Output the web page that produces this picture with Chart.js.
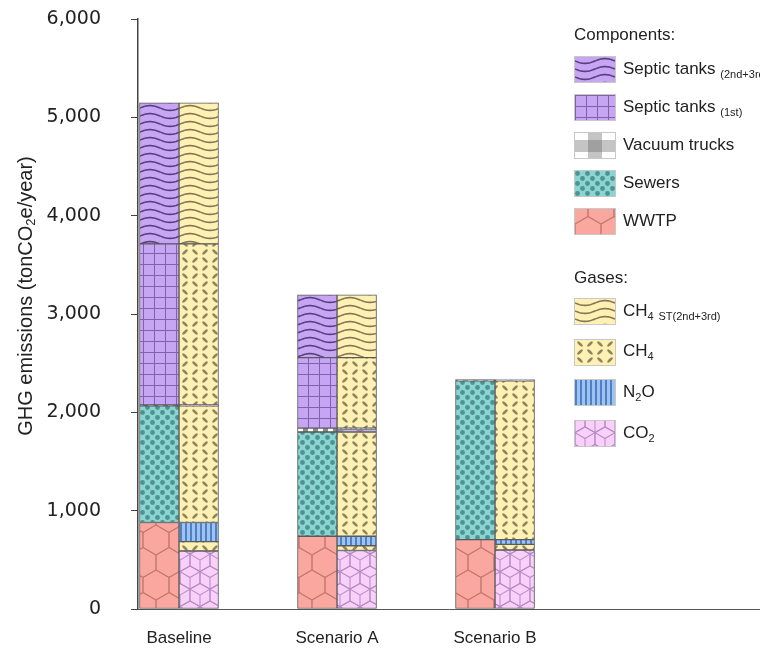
<!DOCTYPE html>
<html>
<head>
<meta charset="utf-8">
<script src="https://cdn.jsdelivr.net/npm/chart.js@4.4.1/dist/chart.umd.min.js"></script>
<style>
  html, body { margin: 0; padding: 0; background: #fff; overflow: hidden; }
  #wrap { position: relative; width: 760px; height: 652px; }
  #myChart { display: block; }
  #legend { position: absolute; left: 574px; top: 0; font-family: "Liberation Sans", Arial, sans-serif; font-size: 17px; color: #222; white-space: nowrap; }
  .group { position: absolute; left: 0; }
  .head { height: 26px; line-height: 26px; }
  .item { display: flex; align-items: center; }
  #comp .item { height: 37.8px; }
  #comp .head { margin-bottom: 3px; }
  #gas .item { height: 40.7px; }
  .item canvas { border: 1px solid #c8c8c8; margin-right: 7px; }
  .item sub { font-size: 11px; }
</style>
</head>
<body>
<div id="wrap">
  <canvas id="myChart" width="760" height="652"></canvas>
  <div id="legend">
    <div class="group" id="comp" style="top:22px">
      <div class="head">Components:</div>
      <div class="item"><canvas width="40" height="25" data-p="septicLater"></canvas><span>Septic tanks <sub>(2nd+3rd)</sub></span></div>
      <div class="item"><canvas width="40" height="25" data-p="septicFirst"></canvas><span>Septic tanks <sub>(1st)</sub></span></div>
      <div class="item"><canvas width="40" height="25" data-p="vacuumBig"></canvas><span>Vacuum trucks</span></div>
      <div class="item"><canvas width="40" height="25" data-p="sewers"></canvas><span>Sewers</span></div>
      <div class="item"><canvas width="40" height="25" data-p="wwtp"></canvas><span>WWTP</span></div>
    </div>
    <div class="group" id="gas" style="top:265px">
      <div class="head">Gases:</div>
      <div class="item"><canvas width="40" height="25" data-p="ch4St"></canvas><span>CH<sub>4</sub> <sub>ST(2nd+3rd)</sub></span></div>
      <div class="item"><canvas width="40" height="25" data-p="ch4"></canvas><span>CH<sub>4</sub></span></div>
      <div class="item"><canvas width="40" height="25" data-p="n2o"></canvas><span>N<sub>2</sub>O</span></div>
      <div class="item"><canvas width="40" height="25" data-p="co2"></canvas><span>CO<sub>2</sub></span></div>
    </div>
  </div>
</div>
<script>
// --- Data (tonCO2e/year) ---
const categories = ['Baseline', 'Scenario A', 'Scenario B'];
const yTicks = [0, 1000, 2000, 3000, 4000, 5000, 6000];

// components stack
const wwtp = [880, 740, 705];
const sewers = [1185, 1060, 1615];
const vacuumTrucks = [10, 40, 12];
const septicFirst = [1638, 716, 0];
const septicLater = [1434, 638, 0];

// gases stack
const co2Wwtp = [590, 595, 600];
const ch4Wwtp = [95, 48, 57];
const n2oWwtp = [195, 97, 48];
const ch4Sewers = [1185, 1060, 1615];
const co2Trucks = [6, 25, 6];
const n2oTrucks = [4, 15, 6];
const ch4SepticFirst = [1638, 716, 0];
const ch4SepticLater = [1434, 638, 0];

// --- Pattern tiles ---
function tile(w, h, bg, draw) {
    const c = document.createElement('canvas');
    c.width = Math.round(w); c.height = Math.round(h);
    const g = c.getContext('2d');
    g.fillStyle = bg;
    g.fillRect(0, 0, c.width, c.height);
    draw(g, c.width, c.height);
    return c;
}

function waves(bg, line) {
    return tile(40, 8, bg, (g, w, h) => {
        g.strokeStyle = line; g.lineWidth = 1.6;
        for (let k = -1; k <= 1; k++) {
            g.beginPath();
            for (let x = 0; x <= w; x++) {
                const y = h / 2 + k * h + 2.4 * Math.sin(2 * Math.PI * x / w);
                x === 0 ? g.moveTo(x, y) : g.lineTo(x, y);
            }
            g.stroke();
        }
    });
}

function hexPath(g, cx, cy, r) {
    g.beginPath();
    for (let k = 0; k < 6; k++) {
        const a = Math.PI / 180 * (-90 + 60 * k);
        const x = cx + r * Math.cos(a), y = cy + r * Math.sin(a);
        k === 0 ? g.moveTo(x, y) : g.lineTo(x, y);
    }
    g.closePath();
}

function hexTile(r, bg, line, cubes) {
    const w = Math.sqrt(3) * r;
    return tile(w, 3 * r, bg, (g, tw, th) => {
        g.strokeStyle = line; g.lineWidth = 1;
        g.scale(tw / w, th / (3 * r));
        const centers = [];
        for (let row = -1; row <= 3; row++) {
            for (let col = -1; col <= 2; col++) {
                centers.push([col * w + (row % 2 ? w / 2 : 0), row * 1.5 * r]);
            }
        }
        centers.forEach(([cx, cy]) => {
            hexPath(g, cx, cy, r); g.stroke();
            if (cubes) {
                g.beginPath();
                [90, 210, 330].forEach(d => {
                    const a = Math.PI / 180 * d;
                    g.moveTo(cx, cy);
                    g.lineTo(cx + r * Math.cos(a), cy + r * Math.sin(a));
                });
                g.stroke();
            }
        });
    });
}

const tiles = {
    septicLater: waves('#c6a6f4', '#5a4080'),
    ch4St: waves('#fff1b3', '#857a55'),
    septicFirst: tile(11, 11, '#c6a6f4', (g) => {
        g.fillStyle = '#7f62a8';
        g.fillRect(0, 0, 11, 1); g.fillRect(0, 0, 1, 11);
    }),
    ch4: tile(20, 16, '#fff1b3', (g) => {
        g.fillStyle = '#8e865e';
        [[5, 4, 1], [15, 4, -1], [5, 12, -1], [15, 12, 1]].forEach(([x, y, s]) => {
            g.beginPath();
            g.ellipse(x, y, 3.6, 1.4, s * Math.PI / 4, 0, 2 * Math.PI);
            g.fill();
        });
    }),
    sewers: tile(10, 10, '#88d6d3', (g) => {
        g.fillStyle = '#52918f';
        [[2.5, 2.5], [7.5, 7.5]].forEach(([x, y]) => {
            g.beginPath(); g.arc(x, y, 2.4, 0, 2 * Math.PI); g.fill();
        });
    }),
    wwtp: hexTile(15, '#f9a79f', '#c47a72', false),
    co2: hexTile(11.5, '#f9d0f9', '#b38bc3', true),
    n2o: tile(5, 4, '#9fc3f0', (g) => {
        g.fillStyle = '#4f80c6';
        g.fillRect(0, 0, 2, 4);
    }),
    vacuum: tile(10, 10, '#ffffff', (g) => {
        g.fillStyle = '#8a8a8a';
        g.fillRect(0, 3, 10, 5); g.fillRect(3, 0, 5, 10);
        g.fillStyle = '#444';
        g.fillRect(3, 3, 5, 5);
    }),
    vacuumBig: tile(40, 25, '#ffffff', (g) => {
        g.fillStyle = '#c4c4c4';
        g.fillRect(0, 7, 40, 12); g.fillRect(13, 0, 14, 25);
        g.fillStyle = '#a0a0a0';
        g.fillRect(13, 7, 14, 12);
    })
};

// --- Legend swatches ---
document.querySelectorAll('#legend canvas').forEach(cv => {
    const g = cv.getContext('2d');
    g.fillStyle = g.createPattern(tiles[cv.dataset.p], 'repeat');
    g.fillRect(0, 0, cv.width, cv.height);
});

// --- Chart ---
const ctx = document.getElementById('myChart');
const c2d = ctx.getContext('2d');
const pat = (name) => c2d.createPattern(tiles[name], 'repeat');

function series(label, values, stack, patternName) {
    return {
        label,
        stack,
        data: values.map((v, i) => ({ x: i + 1, y: v || null })),
        backgroundColor: pat(patternName),
        borderColor: '#5a5a5a',
        borderWidth: 1,
        borderSkipped: false
    };
}

// y-axis title with a real subscript
const yTitle = {
    id: 'yTitle',
    afterDraw(chart) {
        const g = chart.ctx;
        const parts = [['GHG emissions (tonCO', 20, 0], ['2', 13, 5], ['e/year)', 20, 0]];
        g.save();
        g.translate(26, 296);
        g.rotate(-Math.PI / 2);
        g.fillStyle = '#222';
        g.textBaseline = 'middle';
        let total = 0;
        parts.forEach(([t, s]) => { g.font = s + 'px "Liberation Sans", Arial'; total += g.measureText(t).width; });
        let x = -total / 2;
        parts.forEach(([t, s, dy]) => {
            g.font = s + 'px "Liberation Sans", Arial';
            g.fillText(t, x, dy);
            x += g.measureText(t).width;
        });
        g.restore();
    }
};

const myChart = new Chart(ctx, {
    type: 'bar',
    data: {
        datasets: [
            series('WWTP', wwtp, 'components', 'wwtp'),
            series('Sewers', sewers, 'components', 'sewers'),
            series('Vacuum trucks', vacuumTrucks, 'components', 'vacuum'),
            series('Septic tanks (1st)', septicFirst, 'components', 'septicFirst'),
            series('Septic tanks (2nd+3rd)', septicLater, 'components', 'septicLater'),
            series('CO2', co2Wwtp, 'gases', 'co2'),
            series('CH4', ch4Wwtp, 'gases', 'ch4'),
            series('N2O', n2oWwtp, 'gases', 'n2o'),
            series('CH4', ch4Sewers, 'gases', 'ch4'),
            series('CO2', co2Trucks, 'gases', 'co2'),
            series('N2O', n2oTrucks, 'gases', 'n2o'),
            series('CH4', ch4SepticFirst, 'gases', 'ch4'),
            series('CH4 ST(2nd+3rd)', ch4SepticLater, 'gases', 'ch4St')
        ]
    },
    options: {
        responsive: false,
        animation: false,
        barThickness: 39.5,
        layout: { padding: { top: 19, right: 0, bottom: 0, left: 0 } },
        plugins: {
            legend: { display: false },
            tooltip: { enabled: false }
        },
        scales: {
            x: {
                type: 'linear',
                offset: false,
                min: 0.7405,
                max: 4.677,
                afterBuildTicks: (s) => { s.ticks = categories.map((c, i) => ({ value: i + 1 })); },
                afterFit: (s) => { s.height = 43; s.paddingLeft = 0; s.paddingRight = 0; },
                grid: { display: false, drawTicks: false },
                border: { display: true, color: '#555', width: 1 },
                ticks: {
                    autoSkip: false,
                    maxRotation: 0,
                    padding: 19,
                    color: '#222',
                    font: { family: 'Liberation Sans', size: 17 },
                    callback: (v) => categories[v - 1] ?? ''
                }
            },
            y: {
                stacked: true,
                min: 0,
                max: 6000,
                afterBuildTicks: (s) => { s.ticks = yTicks.map(v => ({ value: v })); },
                afterFit: (s) => { s.width = 138; s.paddingTop = 0; s.paddingBottom = 0; },
                grid: { display: true, drawOnChartArea: false, drawTicks: true, tickLength: 7, tickColor: '#444' },
                border: { display: true, color: '#444', width: 1.5 },
                ticks: {
                    padding: 30,
                    color: '#222',
                    font: { family: 'DejaVu Sans', size: 19 },
                    callback: (v) => v.toLocaleString('en-US')
                }
            }
        }
    },
    plugins: [yTitle]
});
</script>
</body>
</html>
